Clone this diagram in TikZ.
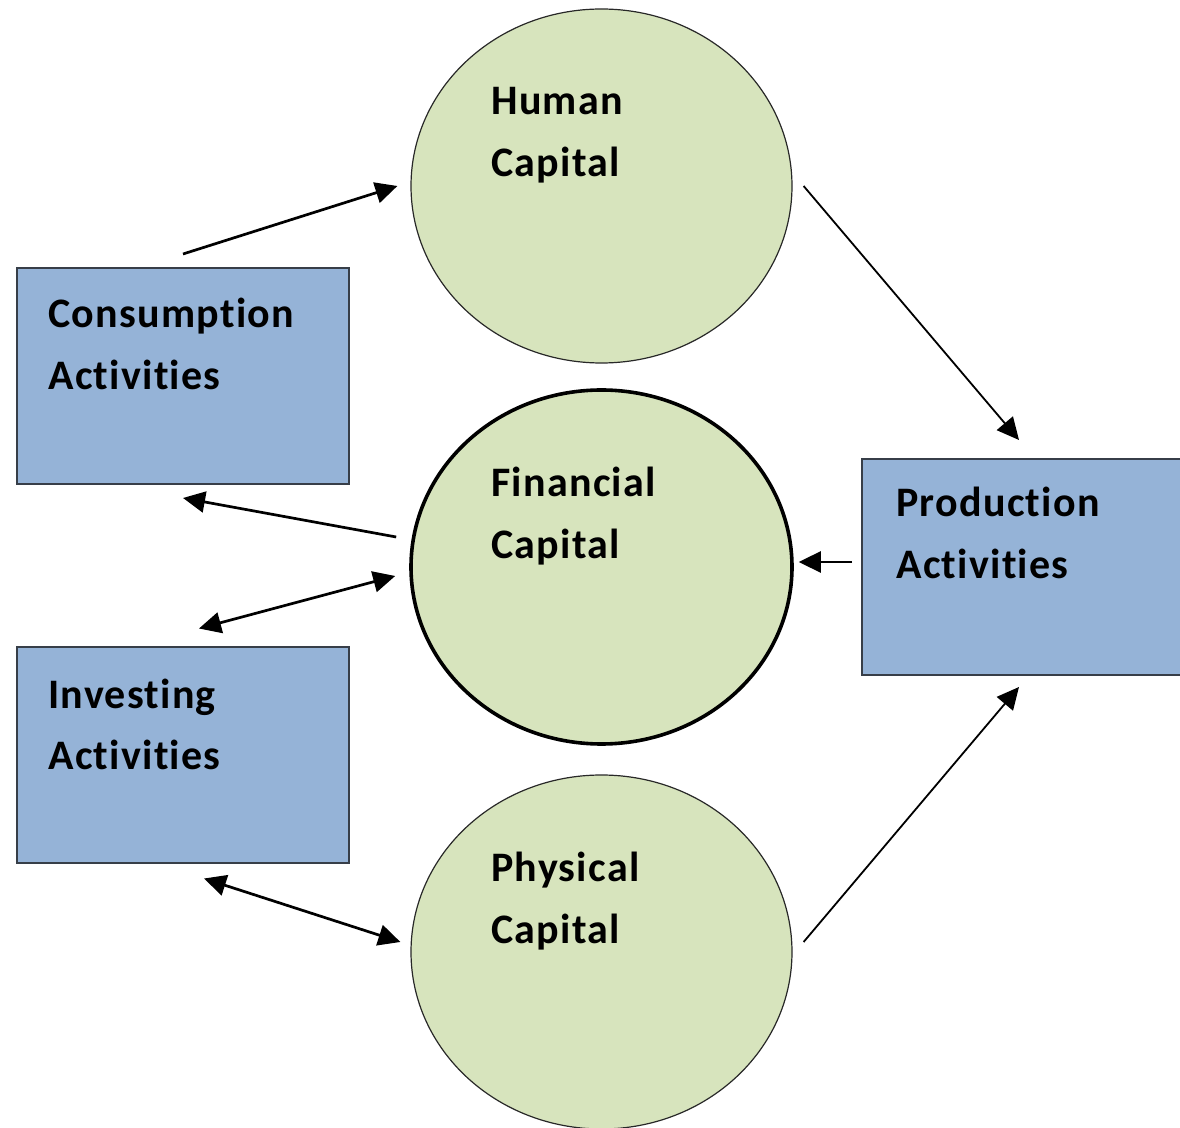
\documentclass[tikz,border=0pt]{standalone}
\usepackage{fontspec}
\setmainfont{Carlito}[Ligatures=NoCommon,LetterSpace=3]
\usetikzlibrary{shapes.geometric,arrows.meta,calc}
\definecolor{capfill}{RGB}{215,228,189}
\definecolor{actfill}{RGB}{149,179,215}
\definecolor{actline}{RGB}{55,62,72}
\definecolor{capline}{RGB}{40,40,40}
\begin{document}
\begin{tikzpicture}[x=0.5pt,y=-0.5pt,
  capital/.style={ellipse,draw=capline,line width=0.6pt,fill=capfill,
    minimum width=190.5pt,minimum height=177pt,inner sep=0pt},
  fincapital/.style={capital,draw=black,line width=1.8pt},
  activity/.style={rectangle,draw=actline,line width=1pt,fill=actfill,
    minimum width=166pt,minimum height=108pt,inner sep=0pt},
  lbl/.style={font=\bfseries\fontsize{21}{31}\selectfont,anchor=base west,
    inner sep=0pt,align=left},
  tip/.tip={Triangle[length=11pt,width=10.5pt]},
  flow/.style={line width=1.35pt,-tip},
  both/.style={line width=1.35pt,tip-tip},
  thinflow/.style={line width=0.9pt,-tip}]
\useasboundingbox (0,0) rectangle (1180,1128);

% capitals
\node[capital] (hc) at (601.5,186) {};
\node[fincapital] (fc) at (601.5,567) {};
\node[capital] (pc) at (601.5,952) {};

% activities
\node[activity] (cons) at (183,376) {};
\node[activity] (inv) at (183,755.5) {};
\node[activity,minimum width=160pt] (prod) at (1022,567) {};

% labels (anchored at the baseline of the second line)
\node[lbl] (hct) at (491,177) {Human\\Capital};
\node[lbl] (fct) at (491,559) {Financial\\Capital};
\node[lbl] (pct) at (491,943) {Physical\\Capital};
\node[lbl] (const) at (48,390) {Consumption\\Activities};
\node[lbl] (invt) at (48,770) {Investing\\Activities};
\node[lbl] (prodt) at (896,579) {Production\\Activities};

% flows
\draw[flow] ($(cons.north)+(0,-13)$) -- ($(hc.west)+(-13,0)$);
\draw[thinflow] ($(hc.east)+(11,0)$) -- ($(prod.north)+(-3,-18)$);
\draw[flow] ($(fc.west)+(-13,-30)$) -- ($(cons.south)+(0,13)$);
\draw[both] ($(inv.north)+(16,-18)$) -- ($(fc.west)+(-14,9)$);
\draw[flow] ($(prod.west)+(-9,-5)$) -- ($(fc.east)+(5,-5)$);
\draw[both] ($(inv.south)+(21,14)$) -- ($(pc.west)+(-10,-10)$);
\draw[thinflow] ($(pc.east)+(11,-10)$) -- ($(prod.south)+(-3,11)$);
\end{tikzpicture}
\end{document}
